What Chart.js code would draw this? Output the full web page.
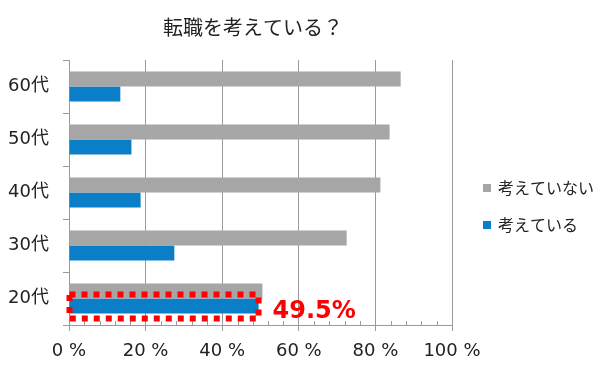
<!DOCTYPE html>
<html>
<head>
<meta charset="utf-8">
<script src="https://cdn.jsdelivr.net/npm/chart.js@4/dist/chart.umd.min.js"></script>
<style>
  html, body { margin: 0; padding: 0; background: #ffffff; }
  #wrap { width: 600px; height: 369px; }
</style>
</head>
<body>
<div id="wrap"><canvas id="c" width="600" height="369"></canvas></div>
<script>
const chartTitle = '転職を考えている？';
const categories = ['60代', '50代', '40代', '30代', '20代'];
const seriesNames = ['考えていない', '考えている'];
const notConsidering = [86.6, 83.7, 81.3, 72.5, 50.5];
const considering = [13.4, 16.3, 18.7, 27.5, 49.5];
const xTicks = [0, 20, 40, 60, 80, 100];
const highlightIndex = 4;

const GRAY = '#A6A6A6';
const BLUE = '#0A7EC6';
const AXIS = '#9A9A9A';
const JP = '"Noto Sans CJK JP", "Noto Sans", sans-serif';
const LATIN_JP = '"DejaVu Sans", "Noto Sans CJK JP", sans-serif';

const decor = {
  id: 'decor',
  afterDatasetsDraw(chart) {
    const ctx = chart.ctx;
    const xs = chart.scales.x;
    const ca = chart.chartArea;
    // minor ticks on the x axis
    ctx.save();
    ctx.strokeStyle = AXIS;
    ctx.lineWidth = 1;
    for (let v = 4; v < 100; v += 4) {
      if (v % 20 === 0) continue;
      const px = Math.round(xs.getPixelForValue(v)) + 0.5;
      ctx.beginPath();
      ctx.moveTo(px, ca.bottom);
      ctx.lineTo(px, ca.bottom - 4);
      ctx.stroke();
    }
    ctx.restore();

    // highlight box around the 20代 blue bar
    const bar = chart.getDatasetMeta(1).data[highlightIndex];
    const p = bar.getProps(['x', 'y', 'base', 'height'], true);
    const left = p.base, right = p.x;
    const top = p.y - p.height / 2 - 4;
    const bottom = p.y + p.height / 2 + 5;
    ctx.save();
    ctx.strokeStyle = '#FF0000';
    ctx.lineWidth = 6;
    ctx.setLineDash([6, 6]);
    ctx.strokeRect(left, top, right - left, bottom - top);
    ctx.restore();

    // value label
    ctx.save();
    ctx.fillStyle = '#FF0000';
    ctx.font = 'bold 24px "DejaVu Sans", sans-serif';
    ctx.textBaseline = 'middle';
    ctx.textAlign = 'left';
    ctx.fillText(considering[highlightIndex] + '%', right + 14, p.y + 6);
    ctx.restore();
  },
  afterDraw(chart) {
    const ctx = chart.ctx;
    // title
    ctx.save();
    ctx.fillStyle = '#222222';
    ctx.font = '20px ' + JP;
    ctx.textAlign = 'center';
    ctx.textBaseline = 'middle';
    ctx.fillText(chartTitle, 253, 27);
    ctx.restore();
    // legend
    const items = [
      { label: chart.data.datasets[0].label, color: chart.data.datasets[0].backgroundColor, y: 188 },
      { label: chart.data.datasets[1].label, color: chart.data.datasets[1].backgroundColor, y: 225 }
    ];
    ctx.save();
    ctx.font = '16px ' + JP;
    ctx.textBaseline = 'middle';
    ctx.textAlign = 'left';
    items.forEach(it => {
      ctx.fillStyle = it.color;
      ctx.fillRect(483, it.y - 4, 8, 8);
      ctx.fillStyle = '#222222';
      ctx.fillText(it.label, 498, it.y);
    });
    ctx.restore();
  }
};

new Chart(document.getElementById('c'), {
  type: 'bar',
  data: {
    labels: categories,
    datasets: [
      { label: seriesNames[0], data: notConsidering, backgroundColor: GRAY, borderWidth: 0 },
      { label: seriesNames[1], data: considering, backgroundColor: BLUE, borderWidth: 0 }
    ]
  },
  options: {
    indexAxis: 'y',
    responsive: false,
    animation: false,
    devicePixelRatio: 1,
    layout: { padding: { top: 60, right: 148, left: 0, bottom: 0 } },
    categoryPercentage: 0.57,
    barPercentage: 1.0,
    plugins: {
      legend: { display: false },
      title: { display: false },
      tooltip: { enabled: false }
    },
    scales: {
      x: {
        min: 0,
        max: 100,
        afterBuildTicks(scale) { scale.ticks = xTicks.map(v => ({ value: v })); },
        afterFit(scale) { scale.height = 44; },
        ticks: {
          callback: v => v + ' %',
          color: '#222222',
          font: { family: LATIN_JP, size: 18 },
          padding: 10,
          maxRotation: 0
        },
        grid: { color: AXIS, lineWidth: 1, tickLength: 6, drawTicks: true },
        border: { color: AXIS, width: 1 }
      },
      y: {
        afterFit(scale) { scale.width = 69; },
        ticks: {
          color: '#222222',
          font: { family: LATIN_JP, size: 18 },
          padding: 14
        },
        grid: { offset: true, drawOnChartArea: false, color: AXIS, tickLength: 6 },
        border: { color: AXIS, width: 1 }
      }
    }
  },
  plugins: [decor]
});
</script>
</body>
</html>
